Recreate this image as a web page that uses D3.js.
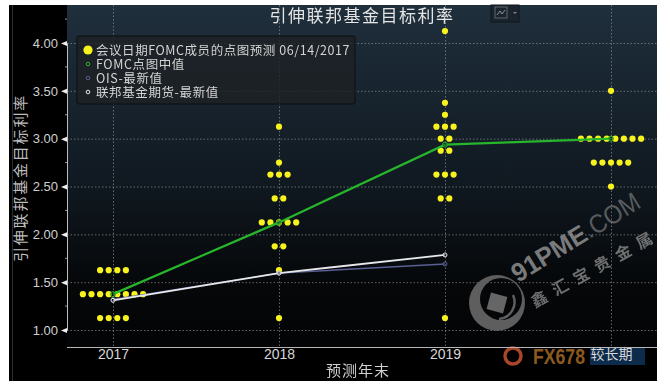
<!DOCTYPE html>
<html><head><meta charset="utf-8">
<script src="https://cdn.jsdelivr.net/npm/d3@7/dist/d3.min.js"></script>
<style>
html,body{margin:0;padding:0;background:#fff;overflow:hidden}
svg{display:block;filter:blur(0.35px)}
text{font-family:"Noto Sans CJK SC","DejaVu Sans",sans-serif}
</style></head><body><div id="c"></div>
<script>
const categories = ["2017","2018","2019","较长期"];
const yTicks = [1,1.5,2,2.5,3,3.5,4];
const minorTicks = [1.25,1.75,2.25,2.75,3.25,3.75,4.25];
const dots2017 = [[1.625,4],[1.375,8],[1.125,4]];
const dots2018 = [[3.125,1],[2.75,1],[2.625,3],[2.375,2],[2.125,5],[1.875,2],[1.625,1],[1.125,1]];
const dots2019 = [[4.125,1],[3.375,1],[3.25,1],[3.125,3],[3,2],[2.875,2],[2.625,3],[2.375,2],[1.125,1]];
const dotsLong = [[3.5,1],[3,8],[2.75,5],[2.5,1]];
const dotSeries = [dots2017,dots2018,dots2019,dotsLong];
const fomcMedian = [1.375,2.125,2.9375,3];
const ois = [1.32,1.595,1.69];
const futures = [1.31,1.595,1.785];
const legendLabels = ["会议日期FOMC成员的点图预测 06/14/2017","FOMC点图中值","OIS-最新值","联邦基金期货-最新值"];
const titleText = "引伸联邦基金目标利率", xTitle = "预测年末";

const W=670,H=388, F={l:9,t:5,r:657,b:381}, P={l:67,t:5,r:657,b:347};
const svg=d3.select("#c").append("svg").attr("width",W).attr("height",H);
const defs=svg.append("defs");
const g=defs.append("linearGradient").attr("id","bg").attr("x1",0).attr("x2",0).attr("y1",0).attr("y2",1);
g.append("stop").attr("offset","0").attr("stop-color","#1f2f3c");
g.append("stop").attr("offset","0.5").attr("stop-color","#111a22");
g.append("stop").attr("offset","0.82").attr("stop-color","#050709");
g.append("stop").attr("offset","1").attr("stop-color","#030405");

svg.append("rect").attr("x",F.l).attr("y",F.t).attr("width",F.r-F.l).attr("height",F.b-F.t).attr("fill","#000");
svg.append("rect").attr("x",12).attr("y",F.t).attr("width",1).attr("height",F.b-F.t).attr("fill","#2c2c2c");
svg.append("rect").attr("x",P.l).attr("y",P.t).attr("width",P.r-P.l).attr("height",P.b-P.t).attr("fill","url(#bg)");

const y=d3.scaleLinear().domain([1,4]).range([330,43]);
const x=d3.scalePoint().domain(categories).range([113,611]);
const step=8.6;

// bottom watermark backing
svg.append("circle").attr("cx",513).attr("cy",356).attr("r",8).attr("fill","none").attr("stroke","#a8452a").attr("stroke-width",3.5);
svg.append("text").attr("x",533).attr("y",364).attr("fill","#8c5a1e").attr("textLength",52).attr("lengthAdjust","spacingAndGlyphs").style("font-size","22px").style("font-weight","bold").style("font-family","Liberation Sans").text("FX678");
svg.append("rect").attr("x",590).attr("y",348).attr("width",55).attr("height",17).attr("fill","#0d2b4a");

// grid
const grid=svg.append("g").attr("stroke","#8a8f93").attr("stroke-opacity",.7).attr("stroke-dasharray","1.5 2").attr("stroke-width",1);
grid.selectAll(".h").data(yTicks).join("line").attr("x1",P.l).attr("x2",P.r).attr("y1",d=>y(d)+.5).attr("y2",d=>y(d)+.5);
grid.selectAll(".v").data(categories).join("line").attr("y1",P.t).attr("y2",P.b).attr("x1",d=>x(d)+.5).attr("x2",d=>x(d)+.5);

// axes
const ay=svg.append("g").attr("transform",`translate(${P.l},0)`)
 .call(d3.axisLeft(y).tickValues(yTicks).tickFormat(d3.format(".2f")).tickSize(0).tickPadding(9));
ay.select(".domain").attr("stroke","#bdbdbd").attr("stroke-width",1);
ay.selectAll("text").attr("fill","#d0d0d0").style("font-size","13px").style("font-family","Liberation Sans");
ay.selectAll(".tick").append("path").attr("d","M-6,0L0,-2.5L0,2.5Z").attr("fill","#eee");
svg.append("g").attr("transform",`translate(${P.l},0)`).selectAll("line").data(minorTicks).join("line")
 .attr("x1",-2).attr("x2",0).attr("y1",d=>y(d)).attr("y2",d=>y(d)).attr("stroke","#999");
const ax=svg.append("g").attr("transform",`translate(0,${P.b})`)
 .call(d3.axisBottom(x).tickSize(0).tickPadding(2));
ax.select(".domain").attr("d",`M${P.l},0.5H${P.r}`).attr("stroke","#b5b5b5").attr("stroke-width",1.2);
ax.selectAll("text").attr("fill","#d8d8d8").style("font-size","14px").style("font-family",d=>d==="较长期"?"Noto Sans CJK SC":"Liberation Sans");

// watermarks
const wm1=svg.append("g").attr("transform","translate(518,283) rotate(-31.5)");
wm1.append("text").attr("fill","#9a9a9a").attr("fill-opacity",.8).attr("textLength",84).attr("lengthAdjust","spacingAndGlyphs").style("font-size","26px").style("font-family","Liberation Sans").style("font-weight","bold").text("91PME");
wm1.append("text").attr("x",84).attr("fill","#9a9a9a").attr("fill-opacity",.55).attr("textLength",62).attr("lengthAdjust","spacingAndGlyphs").style("font-size","26px").style("font-family","Liberation Sans").text(".COM");
svg.append("g").attr("transform","translate(535,308) rotate(-29)").append("text").attr("fill","#8a8a8a").attr("fill-opacity",.8).style("font-size","16px").style("font-weight","bold").style("letter-spacing","8px").text("鑫汇宝贵金属");
const logo=svg.append("g").attr("transform","translate(497,303)");
logo.append("path").attr("fill-rule","evenodd").attr("fill","#5e5e5e")
 .attr("d","M-28,0a28,28 0 1,0 56,0a28,28 0 1,0 -56,0Z M-17,-4a21,21 0 1,0 42,0a21,21 0 1,0 -42,0Z");
logo.append("path").attr("fill","none").attr("stroke","#5e5e5e").attr("stroke-width",2.5).attr("d","M16,-8A17,17 0 0 1 2,16");
logo.append("rect").attr("x",-8.5).attr("y",-8.5).attr("width",17).attr("height",17).attr("transform","rotate(15)").attr("fill","#666");

// toolbar icon
svg.append("rect").attr("x",491).attr("y",5).attr("width",28).attr("height",17).attr("fill","#1b242c").attr("stroke","#11171c");
svg.append("rect").attr("x",495).attr("y",7).attr("width",12).attr("height",11).attr("fill","none").attr("stroke","#5c6670");
svg.append("path").attr("d","M497,15L500,11L502,14L505,10").attr("fill","none").attr("stroke","#88929a");
svg.append("path").attr("d","M513,12h4l-2,2Z").attr("fill","#7b858d");

// lines
const line=d3.line().x(d=>x(d.c)).y(d=>y(d.v));
const mk=a=>a.map((v,i)=>({c:categories[i],v}));
function series(a,color,w,r){
  const s=svg.append("g");
  s.append("path").attr("d",line(mk(a))).attr("fill","none").attr("stroke",color).attr("stroke-width",w);
  s.selectAll("circle").data(mk(a)).join("circle").attr("cx",d=>x(d.c)).attr("cy",d=>y(d.v)).attr("r",r)
    .attr("fill","#101820").attr("fill-opacity",.4).attr("stroke",color).attr("stroke-width",1);
}
const dots=dotSeries.flatMap((rows,i)=>rows.flatMap(([v,n])=>d3.range(n).map(k=>({c:categories[i],v,o:k-(n-1)/2}))));
svg.append("g").selectAll("circle").data(dots).join("circle")
 .attr("cx",d=>x(d.c)+d.o*step).attr("cy",d=>y(d.v)).attr("r",3.1).attr("fill","#f8f21e");
series(fomcMedian,"#27b52c",2.2,2.5);
series(ois,"#5a5f94",1.4,2);
series(futures,"#e8e8ec",1.8,2);

// legend
svg.append("rect").attr("x",77).attr("y",36).attr("width",278).attr("height",68).attr("rx",2)
 .attr("fill","#1d2124").attr("fill-opacity",.82).attr("stroke","#0c0f11");
const rowY=[50,64,78,92];
const lg=svg.append("g");
lg.selectAll("text").data(legendLabels).join("text").attr("x",96).attr("y",(d,i)=>rowY[i]+4.5)
 .attr("fill","#d4d4d4").style("font-size","12.5px").style("letter-spacing",(d,i)=>i?"0.6px":"0.55px").text(d=>d);
lg.append("circle").attr("cx",88).attr("cy",50).attr("r",4.6).attr("fill","#f8f21e");
[["#27b52c",64],["#5a5f94",78],["#e8e8ec",92]].forEach(([c,cy])=>lg.append("circle").attr("cx",88).attr("cy",cy).attr("r",1.8).attr("fill","none").attr("stroke",c));

// titles
svg.append("text").attr("x",362).attr("y",22).attr("text-anchor","middle").attr("fill","#e4e4e4").style("font-size","17px").style("letter-spacing","1.5px").text(titleText);
svg.append("text").attr("x",358).attr("y",376).attr("text-anchor","middle").attr("fill","#d0d0d0").style("font-size","15px").style("letter-spacing","1px").text(xTitle);
svg.append("text").attr("transform","translate(26,178) rotate(-90)").attr("text-anchor","middle").attr("fill","#bdbdbd").style("font-size","15px").style("letter-spacing","1.8px").text(titleText);
</script></body></html>
